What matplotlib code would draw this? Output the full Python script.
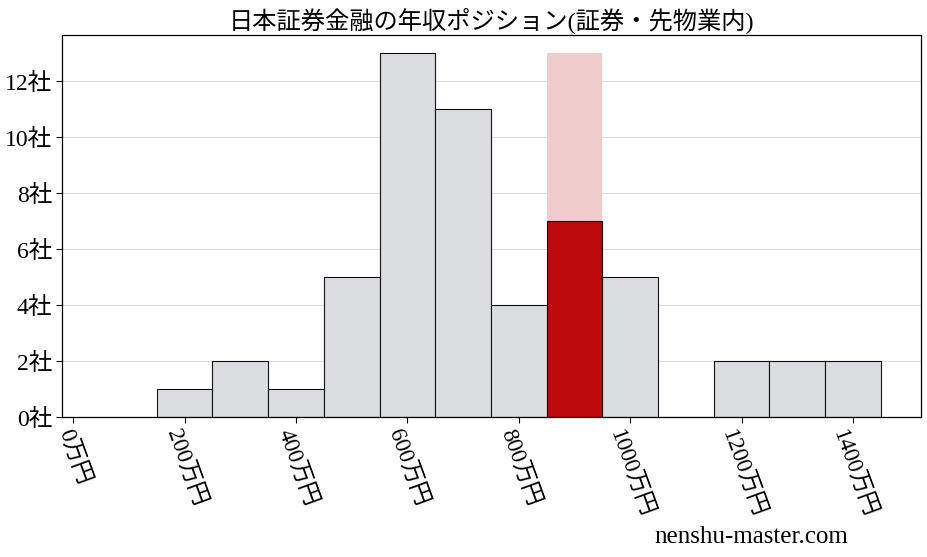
import matplotlib
matplotlib.use("Agg")
import matplotlib.pyplot as plt

plt.rcParams['font.family'] = ['Liberation Serif', 'Noto Sans CJK JP']

title = "日本証券金融の年収ポジション(証券・先物業内)"
bin_centers = [200, 300, 400, 500, 600, 700, 800, 900, 1000, 1100, 1200, 1300, 1400]
counts = [1, 2, 1, 5, 13, 11, 4, 7, 5, 0, 2, 2, 2]
highlight_center = 900
highlight_count = 7
highlight_bg = 13
bin_width = 100
xticks = [0, 200, 400, 600, 800, 1000, 1200, 1400]
xtick_labels = [f"{v}万円" for v in xticks]
yticks = [0, 2, 4, 6, 8, 10, 12]
ytick_labels = [f"{v}社" for v in yticks]

fig = plt.figure(figsize=(9.27, 5.57), dpi=100)
ax = fig.add_axes([62/927, 1-417/557, (921-62)/927, (417-35)/557])

ax.set_axisbelow(True)
ax.yaxis.grid(True, color='#dddddd', linewidth=0.8)

ax.bar([highlight_center], [highlight_bg], width=bin_width, color='#f0cccc',
       edgecolor='none', zorder=1.5)
gray_x = [c for c in bin_centers if c != highlight_center]
gray_y = [n for c, n in zip(bin_centers, counts) if c != highlight_center]
ax.bar(gray_x, gray_y, width=bin_width, color='#dcdde0', edgecolor='#111111',
       linewidth=0.8, zorder=2)
ax.bar([highlight_center], [highlight_count], width=bin_width, color='#be0a0a',
       edgecolor='#111111', linewidth=0.8, zorder=2)

ax.set_xlim(-20, 1522)
ax.set_ylim(0, 13.65)
ax.set_xticks(xticks)
ax.set_xticklabels(xtick_labels, rotation=-70, ha='center', fontsize=16.5)
ax.set_yticks(yticks)
ax.set_yticklabels(ytick_labels, fontsize=17)
ax.tick_params(axis='both', length=4, width=0.8, pad=3)
for s in ax.spines.values():
    s.set_linewidth(0.9)

ax.set_title(title, fontsize=17.5, pad=5)
fig.text(848/927, 1-537/557, "nenshu-master.com", ha='right', va='center', fontsize=18)

fig.savefig("out.png", dpi=100)
